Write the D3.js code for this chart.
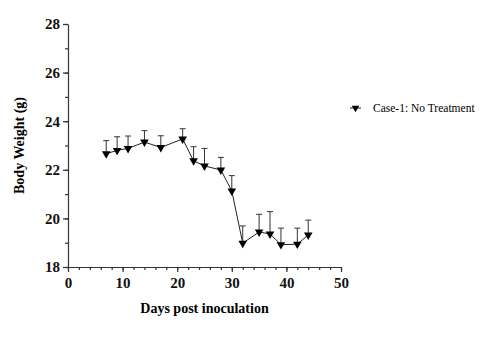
<!DOCTYPE html>
<html>
<head>
<meta charset="utf-8">
<script src="https://cdn.jsdelivr.net/npm/d3@7"></script>
<style>
  body { margin: 0; background: #fff; }
  svg text { font-family: "Liberation Serif", Tinos, Times, "DejaVu Serif", serif !important; }
</style>
</head>
<body>
<div id="chart"></div>
<script>
// data
const days = [7, 9, 11, 14, 17, 21, 23, 25, 28, 30, 32, 35, 37, 39, 42, 44];
const weight = [22.66, 22.8, 22.88, 23.14, 22.92, 23.27, 22.37, 22.16, 21.99, 21.13, 18.98, 19.44, 19.36, 18.92, 18.94, 19.32];
const sd = [0.54, 0.56, 0.51, 0.47, 0.48, 0.42, 0.58, 0.72, 0.52, 0.63, 0.71, 0.73, 0.92, 0.68, 0.66, 0.61];
const xTicks = [0, 10, 20, 30, 40, 50];
const yTicks = [18, 20, 22, 24, 26, 28];
const seriesName = "Case-1: No Treatment";

const width = 493, height = 342;
const margin = {left: 68, right: 152, top: 24, bottom: 75};
const serif = "'Liberation Serif', Tinos, Times, 'DejaVu Serif', serif";

const svg = d3.select("#chart").append("svg")
  .attr("width", width)
  .attr("height", height)
  .attr("font-family", serif);

const x = d3.scaleLinear().domain([0, 50]).range([margin.left, width - margin.right]);
const y = d3.scaleLinear().domain([18, 28]).range([height - margin.bottom, margin.top]);

// minor ticks
svg.append("g")
  .attr("transform", `translate(0,${y(18)})`)
  .call(d3.axisBottom(x).tickValues(d3.range(0, 51, 2)).tickSize(3).tickFormat(""))
  .call(g => g.select(".domain").remove());
svg.append("g")
  .attr("transform", `translate(${x(0)},0)`)
  .call(d3.axisLeft(y).tickValues(d3.range(18, 29, 1)).tickSize(3).tickFormat(""))
  .call(g => g.select(".domain").remove());

// major axes
svg.append("g")
  .attr("transform", `translate(0,${y(18)})`)
  .call(d3.axisBottom(x).tickValues(xTicks).tickSize(5).tickSizeOuter(0).tickPadding(5));
svg.append("g")
  .attr("transform", `translate(${x(0)},0)`)
  .call(d3.axisLeft(y).tickValues(yTicks).tickSize(5).tickSizeOuter(0).tickPadding(3));

svg.selectAll("g").attr("font-family", serif);
svg.selectAll(".tick line, .domain").attr("stroke", "#333").attr("stroke-width", 1.2);
svg.selectAll(".tick text")
  .attr("font-size", 15)
  .attr("font-weight", "bold")
  .attr("fill", "#111");

// axis titles
svg.append("text")
  .attr("x", (x(0) + x(50)) / 2)
  .attr("y", 313)
  .attr("text-anchor", "middle")
  .attr("font-size", 14)
  .attr("font-weight", "bold")
  .text("Days post inoculation");

svg.append("text")
  .attr("transform", `translate(24,${(y(18) + y(28)) / 2}) rotate(-90)`)
  .attr("text-anchor", "middle")
  .attr("font-size", 14)
  .attr("font-weight", "bold")
  .text("Body Weight (g)");

const data = days.map((d, i) => ({day: d, w: weight[i], sd: sd[i]}));

// error bars (upper only)
const err = svg.append("g").attr("stroke", "#333").attr("stroke-width", 1);
err.selectAll("line.bar")
  .data(data)
  .join("line")
  .attr("class", "bar")
  .attr("x1", d => x(d.day)).attr("x2", d => x(d.day))
  .attr("y1", d => y(d.w)).attr("y2", d => y(d.w + d.sd));
err.selectAll("line.cap")
  .data(data)
  .join("line")
  .attr("class", "cap")
  .attr("x1", d => x(d.day) - 3).attr("x2", d => x(d.day) + 3)
  .attr("y1", d => y(d.w + d.sd)).attr("y2", d => y(d.w + d.sd));

// line
svg.append("path")
  .datum(data)
  .attr("fill", "none")
  .attr("stroke", "#222")
  .attr("stroke-width", 1)
  .attr("d", d3.line().x(d => x(d.day)).y(d => y(d.w)));

// markers
const tri = d3.symbol().type(d3.symbolTriangle).size(32);
svg.selectAll("path.pt")
  .data(data)
  .join("path")
  .attr("class", "pt")
  .attr("d", tri)
  .attr("fill", "#000")
  .attr("transform", d => `translate(${x(d.day)},${y(d.w)}) rotate(180)`);

// legend
const lg = svg.append("g").attr("transform", "translate(350,108)");
lg.append("line").attr("x1", 0).attr("x2", 11).attr("stroke", "#222").attr("stroke-width", 1);
lg.append("path").attr("d", d3.symbol().type(d3.symbolTriangle).size(24)).attr("fill", "#000").attr("transform", "translate(5.5,0) rotate(180)");
lg.append("text")
  .attr("x", 23)
  .attr("y", 0)
  .attr("dy", "0.35em")
  .attr("font-size", 11.5)
  .text(seriesName);
</script>
</body>
</html>
